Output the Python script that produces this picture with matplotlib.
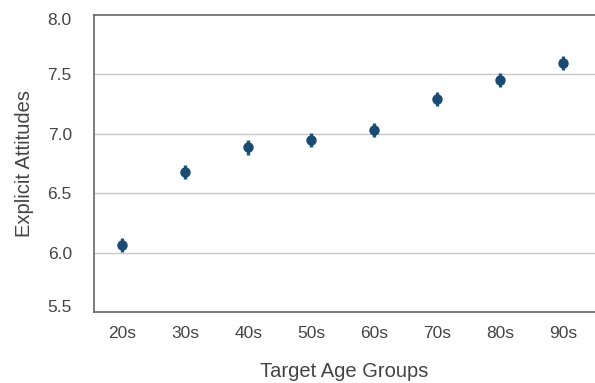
import matplotlib
matplotlib.use("Agg")
import matplotlib.pyplot as plt
from matplotlib.transforms import ScaledTranslation

plt.rcParams["font.family"] = ["Liberation Sans", "DejaVu Sans"]

groups = ["20s", "30s", "40s", "50s", "60s", "70s", "80s", "90s"]
means = [6.065, 6.68, 6.885, 6.95, 7.03, 7.29, 7.455, 7.595]
errs = [0.06, 0.06, 0.06, 0.06, 0.06, 0.06, 0.06, 0.06]

fig = plt.figure(figsize=(5.95, 3.83), dpi=100)
ax = fig.add_axes([0.158, 0.185, 0.842, 0.776])

xs = list(range(len(groups)))
ax.errorbar(xs, means, yerr=errs, fmt="o", color="#1b4a72", ecolor="#145a7a",
            elinewidth=2.4, capsize=0, markersize=6.5, zorder=3)

ax.set_ylim(5.5, 8.0)
ax.set_xlim(-0.45, 7.5)
ax.set_yticks([5.5, 6.0, 6.5, 7.0, 7.5, 8.0])
ax.set_yticklabels(["5.5", "6.0", "6.5", "7.0", "7.5", "8.0"])
ax.set_xticks(xs)
ax.set_xticklabels(groups)
ax.tick_params(length=0, labelsize=12.5, labelcolor="#444444")
ax.tick_params(axis="x", pad=10)
ax.tick_params(axis="y", pad=16)
for v in [6.0, 6.5, 7.0, 7.5]:
    ax.axhline(v, color="#c8c8c8", lw=1, zorder=1)
for s in ["left", "top", "bottom"]:
    ax.spines[s].set_color("#666666")
    ax.spines[s].set_linewidth(1.2)
ax.spines["right"].set_visible(False)

# end labels sit a little inside the axes in the original
ylabels = ax.get_yticklabels()
ylabels[0].set_transform(ylabels[0].get_transform() + ScaledTranslation(0, 6 / 100, fig.dpi_scale_trans))
ylabels[-1].set_transform(ylabels[-1].get_transform() + ScaledTranslation(0, -4 / 100, fig.dpi_scale_trans))

ax.set_ylabel("Explicit Attitudes", fontsize=14.5, color="#444444", labelpad=10)
ax.set_xlabel("Target Age Groups", fontsize=14.5, color="#444444", labelpad=15)

fig.savefig("out.png", dpi=100)
